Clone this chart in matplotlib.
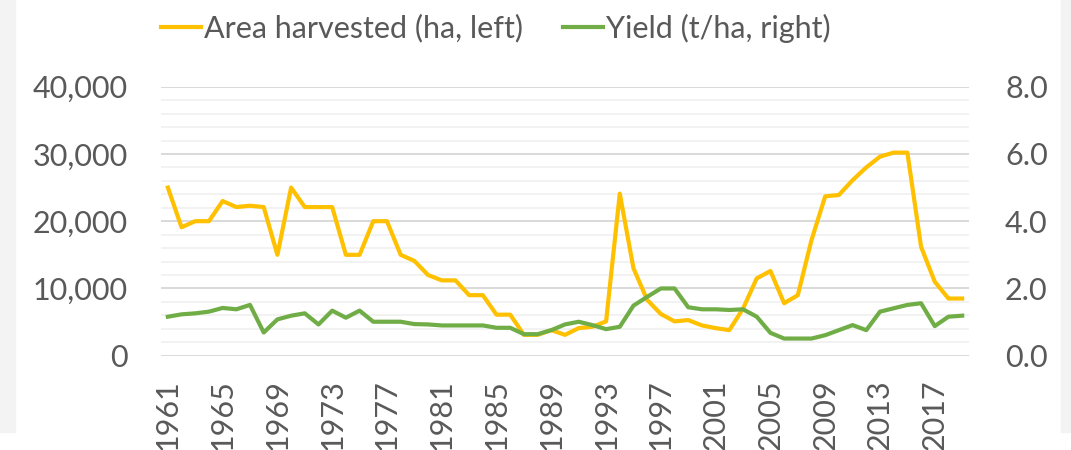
import matplotlib
matplotlib.use("Agg")
import matplotlib.pyplot as plt
from matplotlib.patches import Rectangle
from matplotlib.ticker import MultipleLocator, FuncFormatter

years = list(range(1961, 2020))
area = [25.0, 19.1, 20.0, 20.0, 23.0, 22.1, 22.3, 22.1, 15.0, 25.0,
        22.1, 22.1, 22.1, 15.0, 15.0, 20.0, 20.0, 15.0, 14.1, 12.0,
        11.2, 11.2, 9.0, 9.0, 6.1, 6.1, 3.1, 3.1, 3.8, 3.1,
        4.1, 4.3, 5.1, 24.1, 13.0, 8.3, 6.2, 5.1, 5.3, 4.5,
        4.1, 3.8, 7.0, 11.5, 12.6, 7.8, 9.0, 17.2, 23.7, 23.9,
        26.1, 28.0, 29.6, 30.2, 30.2, 16.2, 11.0, 8.5, 8.5]
area_ha = [v * 1000 for v in area]
yield_tha = [1.16, 1.23, 1.26, 1.31, 1.42, 1.38, 1.51, 0.69, 1.08, 1.19,
             1.26, 0.93, 1.34, 1.13, 1.34, 1.01, 1.01, 1.01, 0.94, 0.93,
             0.90, 0.90, 0.90, 0.90, 0.83, 0.83, 0.64, 0.64, 0.76, 0.93,
             1.01, 0.91, 0.79, 0.86, 1.49, 1.75, 2.00, 2.00, 1.44, 1.38,
             1.38, 1.36, 1.38, 1.16, 0.68, 0.51, 0.51, 0.51, 0.61, 0.76,
             0.91, 0.76, 1.31, 1.41, 1.51, 1.56, 0.88, 1.16, 1.19]
tick_years = list(range(1961, 2019, 4))

TXT = "#595959"
YELLOW = "#FFC000"
GREEN = "#70AD47"
FONT = ["Lato", "DejaVu Sans"]
FS = 22

plt.rcParams['font.family'] = FONT

fig = plt.figure(figsize=(10.71, 4.5), dpi=100)
fig.patch.set_facecolor("white")
# light grey frame strips
fig.patches.append(Rectangle((0, 1 - 432 / 450), 15 / 1071, 432 / 450,
                             transform=fig.transFigure, color="#F3F3F3", zorder=0))
fig.patches.append(Rectangle((1061 / 1071, 1 - 432 / 450), 10 / 1071, 432 / 450,
                             transform=fig.transFigure, color="#F3F3F3", zorder=0))

ax = fig.add_axes([161 / 1071, 1 - 355.7 / 450, (969 - 161) / 1071, (355.7 - 86.7) / 450])
ax.set_facecolor("none")
x = list(range(len(years)))

ax.set_xlim(-0.5, len(years) - 0.5)
ax.set_ylim(0, 40000)
ax.yaxis.set_major_locator(MultipleLocator(10000))
ax.yaxis.set_minor_locator(MultipleLocator(2000))
ax.grid(which="minor", axis="y", color="#F2F2F2", linewidth=1.4, zorder=0)
ax.grid(which="major", axis="y", color="#D9D9D9", linewidth=1.4, zorder=0)
ax.yaxis.set_major_formatter(FuncFormatter(lambda v, p: f"{int(v):,}"))
for s in ax.spines.values():
    s.set_visible(False)
ax.tick_params(axis="y", which="both", length=0, labelsize=FS, labelcolor=TXT, pad=24)
ax.set_xticks([years.index(y) for y in tick_years])
ax.set_xticklabels([str(y) for y in tick_years], rotation=90, fontsize=FS, color=TXT)
ax.tick_params(axis="x", length=0, pad=17)

l1, = ax.plot(x, area_ha, color=YELLOW, linewidth=3.0, solid_joinstyle="round",
              label="Area harvested (ha, left)", zorder=3)

ax2 = ax.twinx()
ax2.set_ylim(0, 8)
ax2.yaxis.set_major_locator(MultipleLocator(2))
ax2.yaxis.set_major_formatter(FuncFormatter(lambda v, p: f"{v:.1f}"))
for s in ax2.spines.values():
    s.set_visible(False)
ax2.tick_params(axis="y", length=0, labelsize=FS, labelcolor=TXT, pad=26)
l2, = ax2.plot(x, yield_tha, color=GREEN, linewidth=3.0, solid_joinstyle="round",
               label="Yield (t/ha, right)", zorder=3)

leg = fig.legend(handles=[l1, l2], loc="center", bbox_to_anchor=(496 / 1071, 1 - 28 / 450),
                 ncol=2, frameon=False, fontsize=FS, handlelength=1.3,
                 handletextpad=0.12, columnspacing=1.3, labelcolor=TXT)

fig.savefig("out.png", dpi=100, facecolor=fig.get_facecolor())
